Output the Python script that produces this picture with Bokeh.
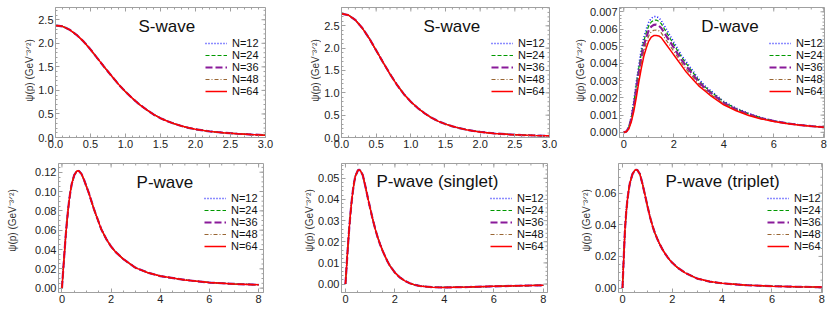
import math
from bokeh.plotting import figure
from bokeh.models import Range1d, FixedTicker, Legend, LegendItem, Label, PrintfTickFormatter
from bokeh.layouts import column, row
from bokeh.embed import file_html
from bokeh.resources import INLINE

# ---------------- data ----------------
series_labels = ["N=12", "N=24", "N=36", "N=48", "N=64"]

# S-wave (left)
sw1_p = [0.0, 0.1, 0.2, 0.3, 0.4, 0.5, 0.6, 0.7, 0.8, 0.9, 1.0, 1.1, 1.2, 1.3, 1.4, 1.5,
         1.6, 1.7, 1.8, 1.9, 2.0, 2.2, 2.4, 2.6, 2.8, 3.0]
sw1_psi = [2.38, 2.36, 2.29, 2.18, 2.04, 1.87, 1.68, 1.49, 1.31, 1.13, 0.97, 0.83, 0.70, 0.59,
           0.49, 0.41, 0.345, 0.29, 0.245, 0.205, 0.175, 0.13, 0.10, 0.08, 0.063, 0.05]

# S-wave (middle)
sw2_p = sw1_p
sw2_psi = [2.77, 2.74, 2.63, 2.45, 2.22, 1.95, 1.68, 1.42, 1.18, 0.97, 0.80, 0.66, 0.54, 0.44,
           0.36, 0.30, 0.25, 0.21, 0.175, 0.148, 0.125, 0.092, 0.07, 0.055, 0.045, 0.037]

# D-wave
dw_p = [0, 0.1, 0.2, 0.3, 0.4, 0.5, 0.6, 0.7, 0.8, 0.9, 1.0, 1.1, 1.2, 1.3, 1.4, 1.5, 1.7, 1.9,
        2.1, 2.3, 2.5, 2.75, 3.0, 3.25, 3.5, 4.0, 4.5, 5.0, 5.5, 6.0, 6.5, 7.0, 7.5, 8.0]
dw_n12 = [0.0, 0.00005, 0.0003, 0.0009, 0.0018, 0.0029, 0.0039, 0.0048, 0.0055, 0.0060, 0.0064,
          0.00662, 0.00672, 0.00673, 0.00665, 0.0065, 0.0060, 0.0055, 0.0050, 0.0045, 0.0041,
          0.0036, 0.0031, 0.0027, 0.0024, 0.0018, 0.0014, 0.0011, 0.00085, 0.00068, 0.00054,
          0.00044, 0.00036, 0.0003]
dw_n24 = [0.0, 0.000046, 0.00028, 0.00084, 0.00169, 0.00273, 0.00371, 0.00459, 0.00529, 0.00579,
          0.00619, 0.00641, 0.00651, 0.00652, 0.00645, 0.00631, 0.00583, 0.00535, 0.00487,
          0.00439, 0.00399, 0.00351, 0.00302, 0.00264, 0.00234, 0.00176, 0.00137, 0.00108,
          0.00084, 0.00067, 0.00053, 0.00044, 0.00036, 0.0003]
dw_n36 = [0.0, 0.000041, 0.00026, 0.00077, 0.00154, 0.0025, 0.00346, 0.00432, 0.00502, 0.00552,
          0.00592, 0.00614, 0.00624, 0.00625, 0.00619, 0.00606, 0.0056, 0.00515, 0.00469,
          0.00424, 0.00384, 0.00338, 0.00292, 0.00257, 0.00227, 0.00171, 0.00133, 0.00105,
          0.00082, 0.00066, 0.00053, 0.00043, 0.00036, 0.0003]
dw_n48 = [0.0, 0.000036, 0.00023, 0.00068, 0.00137, 0.00225, 0.00318, 0.00401, 0.00471, 0.00521,
          0.00561, 0.00584, 0.00593, 0.00594, 0.0059, 0.00578, 0.00535, 0.00492, 0.0045,
          0.00407, 0.00367, 0.00324, 0.00281, 0.00248, 0.00218, 0.00166, 0.00129, 0.00101,
          0.0008, 0.00064, 0.00052, 0.00043, 0.00035, 0.0003]
dw_n64 = [0.0, 0.00003, 0.0002, 0.0006, 0.0012, 0.002, 0.0029, 0.0037, 0.0044, 0.0049, 0.0053,
          0.00553, 0.00562, 0.00563, 0.0056, 0.0055, 0.0051, 0.0047, 0.0043, 0.0039, 0.0035,
          0.0031, 0.0027, 0.0024, 0.0021, 0.0016, 0.00125, 0.00098, 0.00078, 0.00063, 0.00051,
          0.00042, 0.00035, 0.0003]

# P-wave
pw_p = [0, 0.05, 0.1, 0.15, 0.2, 0.25, 0.3, 0.35, 0.4, 0.5, 0.6, 0.65, 0.7, 0.8, 0.9, 1.0, 1.1,
        1.2, 1.3, 1.4, 1.5, 1.6, 1.8, 2.0, 2.2, 2.5, 3.0, 3.5, 4.0, 5.0, 6.0, 7.0, 8.0]
pw_psi = [0, 0.018, 0.036, 0.053, 0.068, 0.081, 0.092, 0.101, 0.108, 0.117, 0.121, 0.1215,
          0.121, 0.118, 0.112, 0.105, 0.098, 0.090, 0.082, 0.075, 0.068, 0.061, 0.051, 0.043,
          0.037, 0.030, 0.021, 0.016, 0.0125, 0.0085, 0.0058, 0.0044, 0.0035]

# P-wave (singlet)
ps_p = [0, 0.05, 0.1, 0.15, 0.2, 0.25, 0.3, 0.35, 0.4, 0.5, 0.55, 0.6, 0.7, 0.8, 0.9, 1.0, 1.1,
        1.2, 1.3, 1.4, 1.5, 1.6, 1.7, 1.8, 2.0, 2.2, 2.4, 2.6, 2.8, 3.0, 3.5, 4.0, 4.5, 5.0,
        6.0, 7.0, 8.0]
ps_psi = [0, 0.009, 0.018, 0.026, 0.033, 0.039, 0.044, 0.048, 0.051, 0.0537, 0.054, 0.0537,
          0.0515, 0.0465, 0.041, 0.0358, 0.0307, 0.0262, 0.0222, 0.0188, 0.0158, 0.0132,
          0.0107, 0.0086, 0.0054, 0.0031, 0.0015, 0.0004, -0.0004, -0.0009, -0.0015, -0.0016,
          -0.0015, -0.0014, -0.0011, -0.0008, -0.0006]

# P-wave (triplet)
pt_p = [0, 0.05, 0.1, 0.15, 0.2, 0.25, 0.3, 0.4, 0.5, 0.55, 0.6, 0.7, 0.8, 0.9, 1.0, 1.1, 1.2,
        1.3, 1.4, 1.5, 1.6, 1.7, 1.8, 1.9, 2.0, 2.2, 2.5, 3.0, 3.5, 4.0, 5.0, 6.0, 7.0, 8.0]
pt_psi = [0, 0.019, 0.037, 0.048, 0.056, 0.062, 0.0665, 0.072, 0.0745, 0.0748, 0.0745, 0.072,
          0.066, 0.059, 0.052, 0.0452, 0.0395, 0.0348, 0.031, 0.0276, 0.0246, 0.022, 0.0197,
          0.0177, 0.016, 0.013, 0.0098, 0.006, 0.0041, 0.003, 0.0018, 0.0012, 0.0008, 0.0006]

# tick values
ticks_s_x = [0.0, 0.5, 1.0, 1.5, 2.0, 2.5, 3.0]
ticks_s_y = [0.0, 0.5, 1.0, 1.5, 2.0, 2.5]
ticks_p_x = [0, 2, 4, 6, 8]
ticks_d_y = [0.0, 0.001, 0.002, 0.003, 0.004, 0.005, 0.006, 0.007]
ticks_pw_y = [0.0, 0.02, 0.04, 0.06, 0.08, 0.10, 0.12]
ticks_ps_y = [0.0, 0.01, 0.02, 0.03, 0.04, 0.05]
ticks_pt_y = [0.0, 0.02, 0.04, 0.06]

# ---------------- styling ----------------
FONT = "Liberation Sans"
FRAME = "#a0a0a0"
COLORS = ["#1a1aff", "#009900", "#8a1a9a", "#996633", "#ff0000"]
DASHES = ["1 2", "4 2", "7 3", "4 2 1 2", "solid"]
WIDTHS = [1.6, 1.2, 2.2, 1.2, 1.5]
YLABEL = "ψ(p) (GeV⁻³ᐟ²)"


def minor_list(lo, hi, step):
    out = []
    k = 0
    while True:
        v = round(lo + k * step, 10)
        if v > hi + 1e-12:
            break
        out.append(v)
        k += 1
    return out


def style_axis(ax, ticks, minors, fmt):
    ax.ticker = FixedTicker(ticks=ticks, minor_ticks=minors)
    ax.formatter = PrintfTickFormatter(format=fmt)
    ax.axis_line_color = FRAME
    ax.major_tick_line_color = FRAME
    ax.minor_tick_line_color = FRAME
    ax.major_tick_in = 4
    ax.major_tick_out = 0
    ax.minor_tick_in = 2
    ax.minor_tick_out = 0
    ax.major_label_text_font = FONT
    ax.major_label_text_font_size = "11px"
    ax.major_label_text_color = "#222222"
    ax.major_label_standoff = 2


def frame_ticks(p, xr, yr, fw, fh, xt, xminor, yt, yminor):
    # tick marks on the top and right frame edges (4 px major, 2 px minor)
    dy = (yr[1] - yr[0]) / fh
    dx = (xr[1] - xr[0]) / fw
    for vals, ln in ((xt, 4), (xminor, 2)):
        v = [t for t in vals if xr[0] <= t <= xr[1]]
        p.segment(x0=v, y0=[yr[1]] * len(v), x1=v, y1=[yr[1] - ln * dy] * len(v),
                  line_color=FRAME, line_width=1)
    for vals, ln in ((yt, 4), (yminor, 2)):
        v = [t for t in vals if yr[0] <= t <= yr[1]]
        p.segment(x0=[xr[1]] * len(v), y0=v, x1=[xr[1] - ln * dx] * len(v), y1=v,
                  line_color=FRAME, line_width=1)


def panel(xs, ys_list, xr, yr, xt, xminor, xfmt, yt, yminor, yfmt, title, tx, ty,
          lb, fw, rb, tb, fh, bb, leg_xy):
    p = figure(frame_width=fw, frame_height=fh, min_border_left=lb, min_border_right=rb,
               min_border_top=tb, min_border_bottom=bb,
               x_range=Range1d(xr[0], xr[1]), y_range=Range1d(yr[0], yr[1]),
               output_backend="svg", toolbar_location=None, tools="")
    p.grid.visible = False
    p.outline_line_color = FRAME
    p.background_fill_color = "white"
    p.border_fill_color = "white"

    style_axis(p.xaxis[0], xt, xminor, xfmt)
    style_axis(p.yaxis[0], yt, yminor, yfmt)

    frame_ticks(p, xr, yr, fw, fh, xt, xminor, yt, yminor)

    items = []
    for lab, ys, c, d, w in zip(series_labels, ys_list, COLORS, DASHES, WIDTHS):
        r = p.line(xs, ys, line_color=c, line_dash=d, line_width=w)
        items.append(LegendItem(label=lab, renderers=[r]))
    leg = Legend(items=items, location=leg_xy, orientation="vertical",
                 label_text_font=FONT, label_text_font_size="11px",
                 label_text_color="#111111",
                 glyph_width=22, glyph_height=12, label_height=12, label_standoff=5,
                 spacing=0, padding=0, margin=0,
                 border_line_alpha=0, background_fill_alpha=0)
    p.add_layout(leg)

    p.add_layout(Label(x=tx, y=ty, text=title, text_align="center", text_baseline="middle",
                       text_font=FONT, text_font_size="17px", text_color="#111111"))
    return p


def ylabel_fig(width, lx, ly, tb, fh, bb):
    # narrow strip that carries the rotated y-axis title of the panel to its right
    p = figure(frame_width=width, frame_height=fh, min_border_left=0, min_border_right=0,
               min_border_top=tb, min_border_bottom=bb,
               x_range=Range1d(0, width), y_range=Range1d(0, fh),
               x_axis_type=None, y_axis_type=None,
               output_backend="svg", toolbar_location=None, tools="")
    p.outline_line_color = None
    p.background_fill_color = "white"
    p.border_fill_color = "white"
    p.add_layout(Label(x=lx, y=ly, text=YLABEL, angle=math.pi / 2, angle_units="rad",
                       text_align="center", text_baseline="middle",
                       text_font=FONT, text_font_size="10px", text_color="#333333"))
    return p


s_minor_x = minor_list(0.0, 3.0, 0.1)
s_minor_y = minor_list(0.0, 2.9, 0.1)
p_minor_x = minor_list(0.0, 8.0, 0.5)

# row 1: top border 7, frame 130, bottom 25
f1 = panel(sw1_p, [sw1_psi] * 5, (0.0, 3.0), (0.0, 2.76), ticks_s_x, s_minor_x, "%.1f",
           ticks_s_y, s_minor_y, "%.1f", "S-wave", 1.59, 2.36,
           18, 210, 10, 7, 130, 25, (150, 40))
f2 = panel(sw2_p, [sw2_psi] * 5, (0.0, 3.0), (0.0, 2.91), ticks_s_x, s_minor_x, "%.1f",
           ticks_s_y, s_minor_y, "%.1f", "S-wave", 1.59, 2.48,
           19, 208, 10, 7, 130, 25, (150, 40))
f3 = panel(dw_p, [dw_n12, dw_n24, dw_n36, dw_n48, dw_n64], (-0.17, 8.03), (-0.0003, 0.00725),
           ticks_p_x, p_minor_x, "%.0f", ticks_d_y, minor_list(0.0, 0.0072, 0.0002), "%.3f",
           "D-wave", 4.25, 0.00615,
           30, 205, 4, 7, 130, 25, (150, 40))

# row 2: top border 1, frame 129, bottom 16
f4 = panel(pw_p, [pw_psi] * 5, (-0.14, 8.2), (-0.0045, 0.129), ticks_p_x, p_minor_x, "%.0f",
           ticks_pw_y, minor_list(0.0, 0.125, 0.005), "%.2f", "P-wave", 4.19, 0.1096,
           28, 205, 10, 1, 129, 16, (146, 40))
f5 = panel(ps_p, [ps_psi] * 5, (-0.16, 8.17), (-0.004, 0.057), ticks_p_x, p_minor_x, "%.0f",
           ticks_ps_y, minor_list(0.0, 0.056, 0.002), "%.2f", "P-wave (singlet)", 3.72, 0.0485,
           24, 206, 10, 1, 129, 16, (149, 40))
f6 = panel(pt_p, [pt_psi] * 5, (-0.16, 8.03), (-0.0028, 0.0787), ticks_p_x, p_minor_x, "%.0f",
           ticks_pt_y, minor_list(0.0, 0.075, 0.005), "%.2f", "P-wave (triplet)", 4.02, 0.0673,
           24, 204, 4, 1, 129, 16, (149, 40))

l1 = ylabel_fig(35, 29, 67, 7, 130, 25)
l2 = ylabel_fig(46, 40, 67, 7, 130, 25)
l3 = ylabel_fig(27, 21, 67, 7, 130, 25)
l4 = ylabel_fig(30, 12, 72, 1, 129, 16)
l5 = ylabel_fig(42, 36, 72, 1, 129, 16)
l6 = ylabel_fig(35, 29, 72, 1, 129, 16)

layout = column(row(l1, f1, l2, f2, l3, f3), row(l4, f4, l5, f5, l6, f6))
open("out.html", "w").write(file_html(layout, INLINE))
